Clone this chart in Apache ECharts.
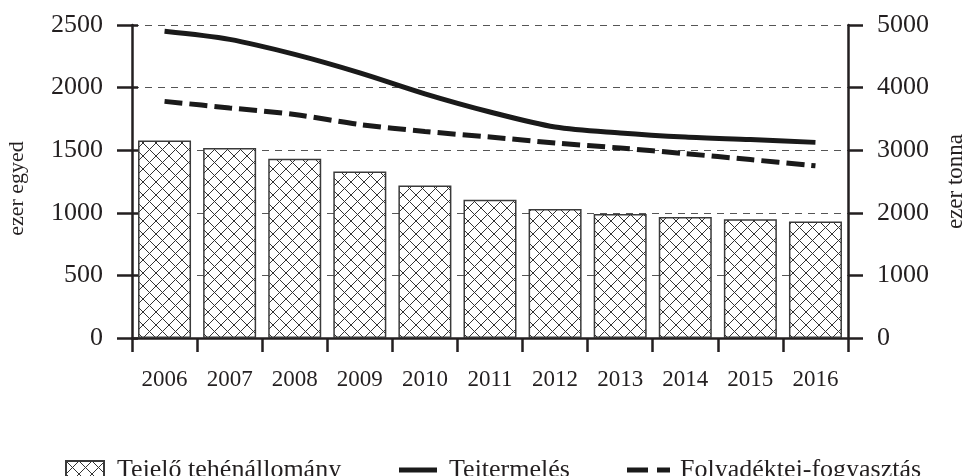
<!DOCTYPE html>
<html>
<head>
<meta charset="utf-8">
<script src="https://cdn.jsdelivr.net/npm/echarts@6/dist/echarts.min.js"></script>
<style>
  html, body { margin: 0; padding: 0; background: #fff; }
  #chart { width: 968px; height: 476px; }
</style>
</head>
<body>
<div id="chart"></div>
<script>
  // adatok
  const years = ['2006', '2007', '2008', '2009', '2010', '2011', '2012', '2013', '2014', '2015', '2016']
  const cows = [1578, 1517, 1432, 1330, 1218, 1104, 1030, 990, 966, 949, 930]          // ezer egyed
  const milkProd = [4900, 4770, 4530, 4235, 3900, 3610, 3370, 3275, 3210, 3170, 3125]  // ezer tonna
  const milkCons = [3780, 3675, 3570, 3410, 3300, 3210, 3115, 3035, 2945, 2850, 2750]  // ezer tonna

  const ink = '#231f20'
  const font = 'Liberation Serif'

  // sraffozott kitöltés
  const hatch = document.createElement('canvas')
  hatch.width = 13
  hatch.height = 13
  const ctx = hatch.getContext('2d')
  ctx.fillStyle = '#fff'
  ctx.fillRect(0, 0, 13, 13)
  ctx.strokeStyle = '#333'
  ctx.lineWidth = 1
  ctx.beginPath()
  ctx.moveTo(-1, -1); ctx.lineTo(14, 14)
  ctx.moveTo(14, -1); ctx.lineTo(-1, 14)
  ctx.stroke()

  const myChart = echarts.init(document.getElementById('chart'))

  const plain = v => String(v)

  const option = {
    animation: false,
    textStyle: { fontFamily: font, color: ink },
    grid: { left: 132, right: 120, top: 25, bottom: 138, outerBoundsMode: 'none', containLabel: false },
    legend: [{
      left: 60, top: 452,
      itemWidth: 38, itemHeight: 18,
      icon: 'rect',
      data: ['Tejelő tehénállomány'],
      textStyle: { fontFamily: font, fontSize: 26, color: ink, padding: [0, 0, 0, 8] }
    }, {
      left: 394, top: 452,
      itemWidth: 38, itemHeight: 5,
      icon: 'rect',
      data: ['Tejtermelés'],
      textStyle: { fontFamily: font, fontSize: 26, color: ink, padding: [0, 0, 0, 7] }
    }, {
      left: 622, top: 452,
      itemWidth: 43, itemHeight: 5,
      icon: 'path://M0,0H21V5H0Z M30,0H43V5H30Z',
      data: ['Folyadéktej-fogyasztás'],
      textStyle: { fontFamily: font, fontSize: 26, color: ink, padding: [0, 0, 0, 5] }
    }],
    xAxis: {
      type: 'category',
      data: years,
      axisLine: { lineStyle: { color: ink, width: 2.5 } },
      axisTick: { show: true, length: 14, lineStyle: { color: ink, width: 2.5 } },
      axisLabel: { margin: 30, fontSize: 23, fontFamily: font, color: ink },
      splitLine: { show: false }
    },
    yAxis: [{
      type: 'value',
      position: 'left',
      min: 0, max: 2500, interval: 500,
      name: 'ezer egyed',
      nameLocation: 'middle',
      nameRotate: 90,
      nameGap: 104,
      nameTextStyle: { fontFamily: font, fontSize: 22, color: ink, padding: [0, 14, 0, 0] },
      axisLine: { show: true, lineStyle: { color: ink, width: 2.5 } },
      axisTick: { show: true, length: 15, lineStyle: { color: ink, width: 2.5 } },
      axisLabel: { margin: 29, fontSize: 26, fontFamily: font, color: ink, formatter: plain },
      splitLine: { show: true, lineStyle: { color: '#555', width: 1.2, type: [7, 6] } }
    }, {
      type: 'value',
      position: 'right',
      min: 0, max: 5000, interval: 1000,
      name: 'ezer tonna',
      nameLocation: 'middle',
      nameRotate: 90,
      nameGap: 96,
      nameTextStyle: { fontFamily: font, fontSize: 23, color: ink },
      axisLine: { show: true, lineStyle: { color: ink, width: 2.5 } },
      axisTick: { show: true, length: 15, lineStyle: { color: ink, width: 2.5 } },
      axisLabel: { margin: 29, fontSize: 26, fontFamily: font, color: ink, formatter: plain },
      splitLine: { show: false }
    }, {
      // befelé álló osztásjelek a bal tengelyen
      type: 'value',
      position: 'left',
      min: 0, max: 2500, interval: 500,
      axisLine: { show: false },
      axisTick: { show: true, inside: true, length: 6, lineStyle: { color: ink, width: 2.5 } },
      axisLabel: { show: false },
      splitLine: { show: false }
    }],
    series: [{
      name: 'Tejelő tehénállomány',
      type: 'bar',
      yAxisIndex: 0,
      barWidth: 53,
      data: cows,
      itemStyle: {
        color: { image: hatch, repeat: 'repeat' },
        borderColor: '#3a3a3a',
        borderWidth: 1.5
      }
    }, {
      name: 'Tejtermelés',
      type: 'line',
      yAxisIndex: 1,
      data: milkProd,
      symbol: 'none',
      smooth: 0.3,
      z: 5,
      itemStyle: { color: '#1a1a1a' },
      lineStyle: { color: '#1a1a1a', width: 5 }
    }, {
      name: 'Folyadéktej-fogyasztás',
      type: 'line',
      yAxisIndex: 1,
      data: milkCons,
      symbol: 'none',
      smooth: 0.3,
      z: 5,
      itemStyle: { color: '#1a1a1a' },
      lineStyle: { color: '#1a1a1a', width: 5, type: [18, 7] }
    }]
  }

  myChart.setOption(option)
</script>
</body>
</html>
